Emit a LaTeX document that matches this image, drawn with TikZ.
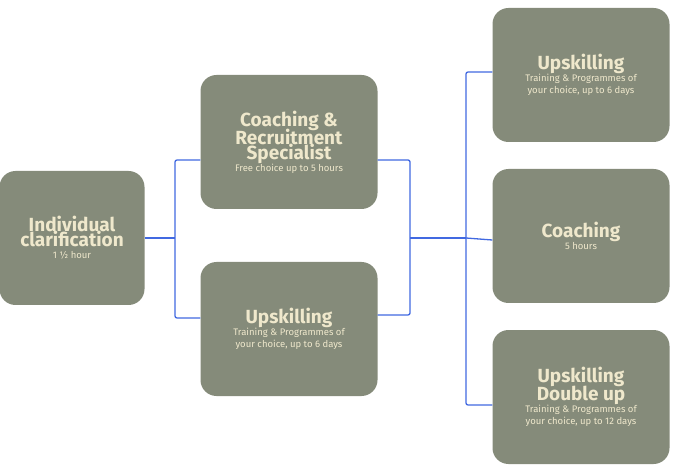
\documentclass[tikz,border=0pt]{standalone}
\usepackage{fontspec}
\setmainfont{Fira Sans}
\usetikzlibrary{positioning}
\definecolor{boxgreen}{HTML}{858B7A}
\definecolor{boxtext}{HTML}{EFE8CC}
\definecolor{linkblue}{HTML}{4169E1}
\newcommand{\boxhead}[1]{{\fontsize{19}{20}\selectfont\bfseries #1}}
\newcommand{\boxsub}[1]{{\fontsize{9.5}{11}\selectfont #1}}

\begin{document}
\begin{tikzpicture}[x=1pt,y=-1pt,
	stage/.style={fill=boxgreen, text=boxtext, rounded corners=16pt,
		minimum width=177pt, minimum height=134pt, align=center, inner sep=2pt},
	link/.style={draw=linkblue, line width=1.3pt, rounded corners=2pt}]
	\useasboundingbox (0,0) rectangle (680,470);

	\node[stage, minimum width=145pt] (clar) at (72,238)
		{\boxhead{Individual}\\[-2pt]\boxhead{clarification}\\\boxsub{1 ½ hour}};
	\node[stage] (crs) at (289,142)
		{\boxhead{Coaching \&}\\[-2pt]\boxhead{Recruitment}\\[-2pt]\boxhead{Specialist}\\\boxsub{Free choice up to 5 hours}};
	\node[stage] (upmid) at (289,329)
		{\boxhead{Upskilling}\\\boxsub{Training \& Programmes of}\\\boxsub{your choice, up to 6 days}};

	\node[stage] (uptop) at (581,75)
		{\boxhead{Upskilling}\\\boxsub{Training \& Programmes of}\\\boxsub{your choice, up to 6 days}};
	\node[stage] (coach) at (581,236)
		{\boxhead{Coaching}\\\boxsub{5 hours}};
	\node[stage] (updbl) at (581,397)
		{\boxhead{Upskilling}\\[-2pt]\boxhead{Double up}\\\boxsub{Training \& Programmes of}\\\boxsub{your choice, up to 12 days}};

	% first brace
	\coordinate (b1) at (175,238);
	\draw[link] (clar.east |- b1) -- (b1);
	\draw[link] (crs.west |- 0,160) -| (b1) |- (upmid.west |- 0,318);

	% second brace
	\coordinate (b2) at (410,238);
	\draw[link] (crs.east |- 0,160) -| (b2) |- (upmid.east |- 0,315);
	\coordinate (b3) at (466,238);
	\draw[link] (b2) -- (b3);
	\draw[link] (uptop.west |- 0,72) -| (b3) |- (updbl.west |- 0,405);
	\draw[link] (b3) -- (coach.west |- 0,240);
\end{tikzpicture}
\end{document}
